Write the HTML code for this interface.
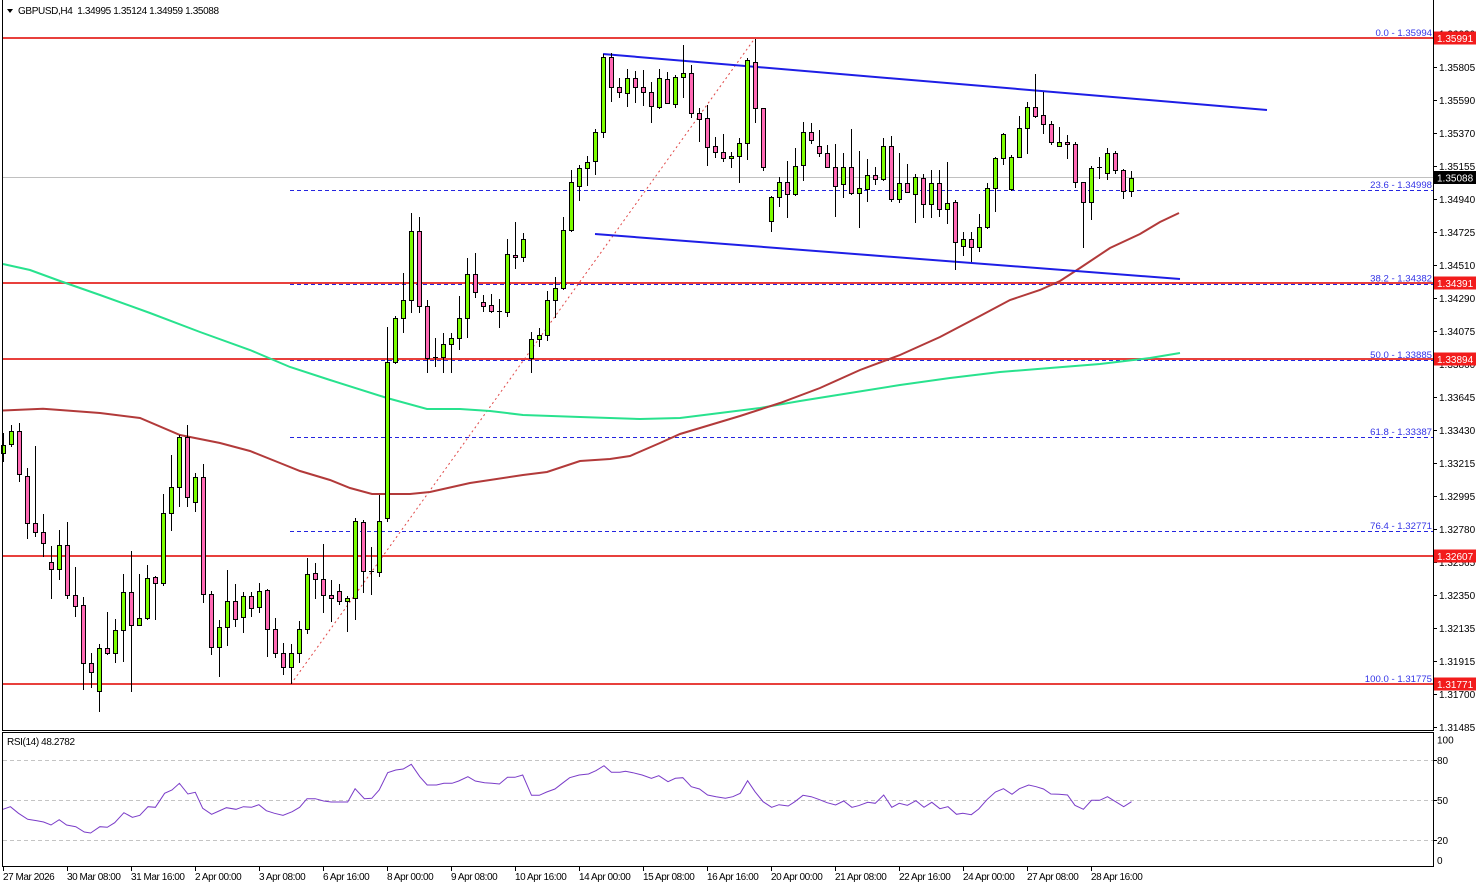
<!DOCTYPE html>
<html><head><meta charset="utf-8"><style>
html,body{margin:0;padding:0;background:#fff;}
svg{display:block;font-family:"Liberation Sans",sans-serif;}
</style></head><body>
<svg width="1479" height="888" viewBox="0 0 1479 888" xmlns="http://www.w3.org/2000/svg">
<rect width="1479" height="888" fill="#fff"/>
<!-- RSI grid -->
<g stroke="#c4c4c4" stroke-width="1" stroke-dasharray="4,3" shape-rendering="crispEdges">
<path d="M3 760.5H1433M3 800.5H1433M3 840.5H1433"/>
</g>
<!-- current price line -->
<path d="M3 177.5H1433" stroke="#c0c0c0" stroke-width="1" shape-rendering="crispEdges"/>
<!-- fib dashed lines -->
<g stroke="#2424e0" stroke-width="1" stroke-dasharray="4,3" shape-rendering="crispEdges">
<path d="M290 38.5H1433M290 190.5H1433M290 284.5H1433M290 360.5H1433M290 437.5H1433M290 531.5H1433M290 684.5H1433"/>
</g>
<!-- fib diagonal -->
<path d="M291 684L755 38" stroke="#e04848" stroke-width="1" stroke-dasharray="2,3" fill="none"/>
<!-- red horizontal lines -->
<g stroke="#e8403c" stroke-width="2" shape-rendering="crispEdges">
<path d="M3 38H1433M3 283H1433M3 359H1433M3 556H1433M3 684H1433"/>
</g>
<!-- MAs -->
<polyline fill="none" stroke="#28e28e" stroke-width="2" points="3,264 30,270 60,281 100,295 150,313 200,332 250,350 290,367 330,380 387,398 427,409 460,409 490,411 523,415 580,417 640,419 680,418 720,413 760,408 800,401 850,393 900,385 950,378 1000,372 1050,368 1100,364 1150,358 1180,353"/>
<polyline fill="none" stroke="#b23a3a" stroke-width="2" points="3,410.5 43,408.7 60,410 100,413 140,418 180,435 220,443 250,451 280,463 300,471 330,480 350,488 372,494 410,494 430,492 470,483 490,480 523,475 547,472 580,461 610,459 630,456 660,443 680,434 700,428 740,416 780,403 820,388 860,370 900,355 940,337 980,316 1010,300 1040,290 1060,281 1080,268 1110,248 1140,234 1160,222 1179,213"/>
<!-- channel -->
<g stroke="#1e1ee6" stroke-width="2" fill="none">
<path d="M603 54L1267 110"/>
<path d="M595 234L1180 279"/>
</g>
<!-- wicks -->
<path stroke="#000" stroke-width="1" fill="none" shape-rendering="crispEdges" d="M3.5 433V462M11.5 425V447M19.5 423V482M27.5 468V539M35.5 446V537M43.5 514V557M51.5 546V599M59.5 530V580M67.5 522V599M75.5 567V617M83.5 597V690M91.5 653V688M99.5 644V712M107.5 612V655M115.5 619V663M123.5 574V662M131.5 551V692M139.5 574V625M147.5 565V620M155.5 576V620M163.5 494V586M171.5 455V531M179.5 435V507M187.5 425V507M195.5 473V512M203.5 464V603M211.5 591V655M219.5 620V677M227.5 570V646M235.5 584V627M243.5 592V633M251.5 592V617M259.5 583V613M267.5 589V657M275.5 618V658M283.5 643V675M291.5 644V684M299.5 621V663M307.5 558V634M315.5 563V599M323.5 544V613M331.5 580V622M339.5 584V605M347.5 596V632M355.5 518V620M363.5 520V593M371.5 547V595M379.5 495V577M387.5 327V522M395.5 316V364M403.5 273V333M411.5 213V313M419.5 217V313M427.5 300V373M435.5 338V367M443.5 333V373M451.5 333V373M459.5 296V350M467.5 258V338M475.5 253V298M483.5 295V312M491.5 294V313M499.5 299V328M507.5 239V317M515.5 222V269M523.5 233V262M531.5 332V373M539.5 328V347M547.5 291V341M555.5 277V318M563.5 217V290M571.5 170V232M579.5 165V201M587.5 156V186M595.5 129V175M603.5 54V138M611.5 53V102M619.5 78V98M627.5 69V107M635.5 71V103M643.5 70V106M651.5 82V123M659.5 69V109M667.5 72V104M675.5 75V108M683.5 45V98M691.5 65V118M699.5 108V142M707.5 105V166M715.5 137V158M723.5 134V162M731.5 152V168M739.5 138V183M747.5 58V160M755.5 39V123M763.5 108V171M771.5 196V232M779.5 177V207M787.5 161V218M795.5 148V196M803.5 122V181M811.5 123V144M819.5 130V157M827.5 145V168M835.5 144V217M843.5 153V198M851.5 129V195M859.5 151V228M867.5 159V202M875.5 167V185M883.5 138V181M891.5 136V202M899.5 153V203M907.5 164V193M915.5 174V223M923.5 174V218M931.5 170V218M939.5 170V217M947.5 162V224M955.5 200V270M963.5 232V256M971.5 232V262M979.5 214V252M987.5 183V229M995.5 157V212M1003.5 133V165M1011.5 155V191M1019.5 116V157M1027.5 102V154M1035.5 74V118M1043.5 92V134M1051.5 121V145M1059.5 127V147M1067.5 135V159M1075.5 142V188M1083.5 182V248M1091.5 166V220M1099.5 157V179M1107.5 148V180M1115.5 151V174M1123.5 169V199M1131.5 171V197M369 571.5h5M433 357.5h5M497 311.5h5M1097 167.5h5"/>
<!-- green bodies -->
<path fill="#7cfc00" stroke="#000" stroke-width="1" shape-rendering="crispEdges" d="M1.5 445.5h4v8h-4zM9.5 431.5h4v13h-4zM57.5 545.5h4v24h-4zM97.5 648.5h4v43h-4zM113.5 630.5h4v23h-4zM121.5 592.5h4v38h-4zM137.5 618.5h4v7h-4zM145.5 578.5h4v40h-4zM161.5 513.5h4v70h-4zM169.5 487.5h4v26h-4zM177.5 437.5h4v50h-4zM193.5 477.5h4v25h-4zM217.5 627.5h4v20h-4zM225.5 601.5h4v26h-4zM241.5 596.5h4v21h-4zM257.5 591.5h4v16h-4zM289.5 653.5h4v14h-4zM297.5 629.5h4v24h-4zM305.5 574.5h4v55h-4zM345.5 598.5h4v3h-4zM353.5 521.5h4v77h-4zM377.5 521.5h4v51h-4zM385.5 362.5h4v156h-4zM393.5 318.5h4v44h-4zM401.5 300.5h4v18h-4zM409.5 231.5h4v69h-4zM441.5 344.5h4v13h-4zM449.5 338.5h4v6h-4zM457.5 318.5h4v20h-4zM465.5 274.5h4v44h-4zM505.5 254.5h4v58h-4zM521.5 239.5h4v18h-4zM529.5 339.5h4v19h-4zM537.5 335.5h4v4h-4zM545.5 300.5h4v35h-4zM553.5 288.5h4v12h-4zM561.5 230.5h4v58h-4zM569.5 182.5h4v48h-4zM577.5 168.5h4v18h-4zM585.5 162.5h4v6h-4zM593.5 132.5h4v29h-4zM601.5 57.5h4v75h-4zM625.5 78.5h4v15h-4zM657.5 78.5h4v29h-4zM673.5 77.5h4v27h-4zM681.5 73.5h4v4h-4zM729.5 156.5h4v2h-4zM737.5 143.5h4v13h-4zM745.5 60.5h4v83h-4zM769.5 197.5h4v24h-4zM777.5 182.5h4v15h-4zM793.5 166.5h4v28h-4zM801.5 132.5h4v33h-4zM841.5 167.5h4v17h-4zM857.5 188.5h4v5h-4zM865.5 175.5h4v14h-4zM881.5 146.5h4v33h-4zM897.5 183.5h4v16h-4zM913.5 177.5h4v17h-4zM929.5 183.5h4v21h-4zM945.5 203.5h4v6h-4zM961.5 239.5h4v7h-4zM977.5 227.5h4v20h-4zM985.5 188.5h4v39h-4zM993.5 158.5h4v30h-4zM1001.5 134.5h4v24h-4zM1009.5 157.5h4v32h-4zM1017.5 128.5h4v29h-4zM1025.5 107.5h4v21h-4zM1057.5 142.5h4v4h-4zM1089.5 168.5h4v34h-4zM1105.5 153.5h4v20h-4zM1129.5 178.5h4v13h-4z"/>
<!-- pink bodies -->
<path fill="#ff69b4" stroke="#000" stroke-width="1" shape-rendering="crispEdges" d="M17.5 431.5h4v43h-4zM25.5 476.5h4v47h-4zM33.5 523.5h4v9h-4zM41.5 532.5h4v11h-4zM49.5 562.5h4v7h-4zM65.5 545.5h4v50h-4zM73.5 595.5h4v11h-4zM81.5 605.5h4v58h-4zM89.5 663.5h4v9h-4zM105.5 648.5h4v5h-4zM129.5 592.5h4v33h-4zM153.5 577.5h4v6h-4zM185.5 437.5h4v60h-4zM201.5 477.5h4v117h-4zM209.5 594.5h4v53h-4zM233.5 601.5h4v18h-4zM249.5 596.5h4v12h-4zM265.5 590.5h4v39h-4zM273.5 629.5h4v24h-4zM281.5 653.5h4v14h-4zM313.5 573.5h4v6h-4zM321.5 579.5h4v16h-4zM329.5 595.5h4v3h-4zM337.5 591.5h4v10h-4zM361.5 522.5h4v49h-4zM417.5 231.5h4v75h-4zM425.5 306.5h4v52h-4zM473.5 274.5h4v18h-4zM481.5 302.5h4v4h-4zM489.5 305.5h4v6h-4zM513.5 255.5h4v2h-4zM609.5 57.5h4v30h-4zM617.5 87.5h4v5h-4zM633.5 78.5h4v9h-4zM641.5 87.5h4v5h-4zM649.5 92.5h4v14h-4zM665.5 79.5h4v24h-4zM689.5 73.5h4v40h-4zM697.5 113.5h4v6h-4zM705.5 118.5h4v29h-4zM713.5 146.5h4v6h-4zM721.5 152.5h4v6h-4zM753.5 62.5h4v46h-4zM761.5 108.5h4v59h-4zM785.5 182.5h4v12h-4zM809.5 132.5h4v8h-4zM817.5 146.5h4v7h-4zM825.5 153.5h4v14h-4zM833.5 167.5h4v19h-4zM849.5 167.5h4v26h-4zM873.5 175.5h4v4h-4zM889.5 146.5h4v53h-4zM905.5 183.5h4v9h-4zM921.5 178.5h4v26h-4zM937.5 183.5h4v26h-4zM953.5 202.5h4v40h-4zM969.5 239.5h4v8h-4zM1033.5 107.5h4v9h-4zM1041.5 115.5h4v9h-4zM1049.5 124.5h4v18h-4zM1065.5 142.5h4v2h-4zM1073.5 144.5h4v38h-4zM1081.5 182.5h4v20h-4zM1113.5 153.5h4v17h-4zM1121.5 170.5h4v21h-4z"/>
<!-- RSI line -->
<polyline fill="none" stroke="#7a3cc8" stroke-width="1" points="3,809.3 10.4,806.7 18.5,813.3 27.7,819.3 37,820.7 43.6,822 51,825 59.2,819.7 66.6,825 75.8,826.7 84.3,832 90.6,833 99.9,826.7 107.3,827.3 114.7,822.7 123.9,812.7 132.4,817.3 139.8,815.3 148,806.7 155.4,807.3 164.6,793.3 172,790 179.4,783.3 187.9,794 195.3,792.3 202.7,808.3 211.6,814.3 219,811 226.4,807.7 236,809.3 243.4,806.7 251.5,807.3 258.9,804.7 266.3,810.7 274.5,813.3 283,815.3 292.2,811.7 299.6,807.3 307,798.7 315.2,798.7 323.7,801 331.1,802 347.7,802 355.1,788.7 364.4,798.7 371.8,798.3 379.2,790 387.7,772.7 395.8,770 403.2,769 411.3,764.3 419.8,776.7 427.2,785 436.5,785 443.9,783.3 452,783.3 458.7,781 467.9,776.7 475.3,781 484.6,782.7 492,783.3 499.4,784 507.5,777.3 514.9,777.3 522.7,775 531.5,795.3 539.3,795.3 546.7,792 554.9,789 562.3,783.3 569.7,777.7 579.2,775 588.5,774 595.9,770.7 604,765.7 611.4,772.3 619.9,772.3 625.5,771.3 632.9,772.7 642.1,775 651.4,778.3 658.8,775.7 668,781.7 675.4,778.3 682.8,777.7 691.3,786.7 699.5,789 707.6,795 716.1,796.7 725.4,798.3 732.8,796.7 740.2,793.3 747.6,780.7 755,791.7 763.1,801.7 771.6,807.3 779,804.7 788.2,806 794.9,801.7 803,795.3 811.2,796.7 818.6,799.3 827.1,802.7 835.6,805 843.7,801 851.9,807.3 858.5,805.7 867.8,802.3 875.2,803.3 883.7,795 891.8,807.3 899.2,803.3 907.4,805.3 915.9,800.7 924,807.3 931.8,802.3 939.9,808.7 948,806.7 956.5,814.3 962.8,813.3 971.3,814.7 978.7,809 987.3,799.3 995.4,792 1003.5,788.7 1012,794.3 1019.4,788.7 1028.7,785 1036.1,786.7 1043.5,789 1050.9,794 1059,794.3 1067.5,795 1074.9,805.3 1083.4,809.3 1091.6,800.3 1099.7,800.3 1107.5,796.7 1115.6,801.7 1123.7,806.7 1131.5,801.7"/>
<!-- frames -->
<g stroke="#000" stroke-width="1" fill="none" shape-rendering="crispEdges">
<path d="M2.5 0V730.5H1433.5V0"/>
<path d="M2.5 732.5H1433.5V866.5H2.5Z"/>
<path d="M1433 67.5h4M1433 100.5h4M1433 133.5h4M1433 166.5h4M1433 199.5h4M1433 232.5h4M1433 265.5h4M1433 298.5h4M1433 331.5h4M1433 364.5h4M1433 397.5h4M1433 430.5h4M1433 463.5h4M1433 496.5h4M1433 529.5h4M1433 562.5h4M1433 595.5h4M1433 628.5h4M1433 661.5h4M1433 694.5h4M1433 727.5h4M1433 760.5h4M1433 800.5h4M1433 840.5h4"/>
<path d="M3.5 866V871M67.5 866V871M131.5 866V871M195.5 866V871M259.5 866V871M323.5 866V871M387.5 866V871M451.5 866V871M515.5 866V871M579.5 866V871M643.5 866V871M707.5 866V871M771.5 866V871M835.5 866V871M899.5 866V871M963.5 866V871M1027.5 866V871M1091.5 866V871"/>
</g>
<!-- header -->
<path d="M7 9h6l-3 4z" fill="#000"/>
<g font-size="10" fill="#000">
<text x="18" y="14" xml:space="preserve" textLength="201" lengthAdjust="spacing">GBPUSD,H4  1.34995 1.35124 1.34959 1.35088</text>
<text x="7" y="745" textLength="68" lengthAdjust="spacing">RSI(14) 48.2782</text>
</g>
<!-- price axis labels -->
<g font-size="10" fill="#000">
<text x="1439" y="37.5">1.36020</text>
<text x="1439" y="71">1.35805</text>
<text x="1439" y="104">1.35590</text>
<text x="1439" y="137">1.35370</text>
<text x="1439" y="170">1.35155</text>
<text x="1439" y="203">1.34940</text>
<text x="1439" y="236">1.34725</text>
<text x="1439" y="269">1.34510</text>
<text x="1439" y="302">1.34290</text>
<text x="1439" y="335">1.34075</text>
<text x="1439" y="368">1.33860</text>
<text x="1439" y="401">1.33645</text>
<text x="1439" y="434">1.33430</text>
<text x="1439" y="467">1.33215</text>
<text x="1439" y="500">1.32995</text>
<text x="1439" y="533">1.32780</text>
<text x="1439" y="566">1.32565</text>
<text x="1439" y="599">1.32350</text>
<text x="1439" y="632">1.32135</text>
<text x="1439" y="665">1.31915</text>
<text x="1439" y="698">1.31700</text>
<text x="1439" y="731">1.31485</text>
<text x="1437" y="743.5">100</text>
<text x="1437" y="764">80</text>
<text x="1437" y="804">50</text>
<text x="1437" y="844">20</text>
<text x="1437" y="864">0</text>
</g>
<!-- price boxes -->
<g>
<rect x="1434" y="31.5" width="42" height="13" fill="#f21c1c"/>
<rect x="1434" y="171" width="42" height="13" fill="#000"/>
<rect x="1434" y="276.5" width="42" height="13" fill="#f21c1c"/>
<rect x="1434" y="352.5" width="42" height="13" fill="#f21c1c"/>
<rect x="1434" y="549.5" width="42" height="13" fill="#f21c1c"/>
<rect x="1434" y="677.5" width="42" height="13" fill="#f21c1c"/>
</g>
<g font-size="10" fill="#fff">
<text x="1437" y="42">1.35991</text>
<text x="1437" y="181.5">1.35088</text>
<text x="1437" y="287">1.34391</text>
<text x="1437" y="363">1.33894</text>
<text x="1437" y="560">1.32607</text>
<text x="1437" y="688">1.31771</text>
</g>
<!-- fib labels -->
<g font-size="9.6" fill="#3434e6" text-anchor="end">
<text x="1432" y="36">0.0 - 1.35994</text>
<text x="1432" y="188">23.6 - 1.34998</text>
<text x="1432" y="281.5">38.2 - 1.34382</text>
<text x="1432" y="358">50.0 - 1.33885</text>
<text x="1432" y="435">61.8 - 1.33387</text>
<text x="1432" y="529">76.4 - 1.32771</text>
<text x="1432" y="682">100.0 - 1.31775</text>
</g>
<!-- time axis labels -->
<g font-size="10" fill="#000" letter-spacing="-0.45">
<text x="3" y="880">27 Mar 2026</text>
<text x="67" y="880">30 Mar 08:00</text>
<text x="131" y="880">31 Mar 16:00</text>
<text x="195" y="880">2 Apr 00:00</text>
<text x="259" y="880">3 Apr 08:00</text>
<text x="323" y="880">6 Apr 16:00</text>
<text x="387" y="880">8 Apr 00:00</text>
<text x="451" y="880">9 Apr 08:00</text>
<text x="515" y="880">10 Apr 16:00</text>
<text x="579" y="880">14 Apr 00:00</text>
<text x="643" y="880">15 Apr 08:00</text>
<text x="707" y="880">16 Apr 16:00</text>
<text x="771" y="880">20 Apr 00:00</text>
<text x="835" y="880">21 Apr 08:00</text>
<text x="899" y="880">22 Apr 16:00</text>
<text x="963" y="880">24 Apr 00:00</text>
<text x="1027" y="880">27 Apr 08:00</text>
<text x="1091" y="880">28 Apr 16:00</text>
</g>
</svg>
</body></html>
